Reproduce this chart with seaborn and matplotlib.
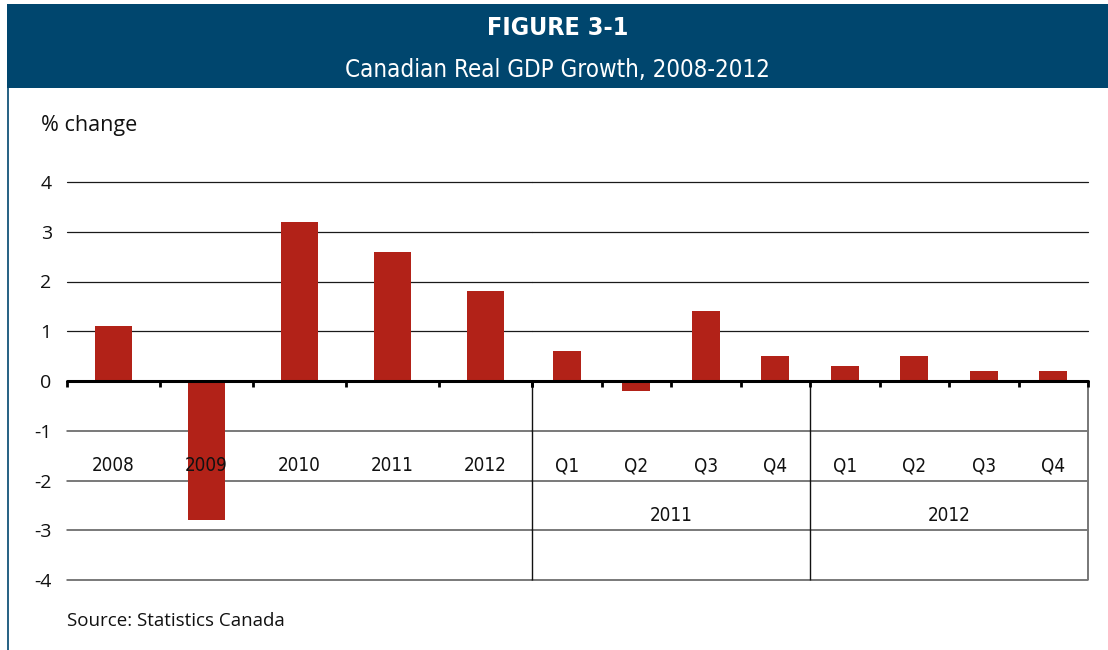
import matplotlib
matplotlib.use("Agg")
import matplotlib.pyplot as plt
from matplotlib.patches import Rectangle
from matplotlib.lines import Line2D
from matplotlib import font_manager as fm
import pandas as pd
import seaborn as sns

# Annual growth
years = ["2008", "2009", "2010", "2011", "2012"]
annual_growth = [1.1, -2.8, 3.2, 2.6, 1.8]

# Quarterly growth, 2011 and 2012
quarters = ["Q1", "Q2", "Q3", "Q4", "Q1", "Q2", "Q3", "Q4"]
quarter_years = ["2011", "2011", "2011", "2011", "2012", "2012", "2012", "2012"]
quarterly_growth = [0.6, -0.2, 1.4, 0.5, 0.3, 0.5, 0.2, 0.2]

y_ticks = [-4, -3, -2, -1, 0, 1, 2, 3, 4]

sns.set_theme(style="white")
plt.rcParams["font.family"] = ["Open Sans", "DejaVu Sans"]

BAR = "#b22218"
NAVY = "#00466e"


def narrow_font(bold=False):
    """Pick an installed condensed face for the category and header text."""
    files = [f.fname for f in fm.fontManager.ttflist]
    wanted = (["LiberationSansNarrow-Bold", "DejaVuSansCondensed-Bold"] if bold
              else ["LiberationSansNarrow-Regular", "DejaVuSansCondensed."])
    for key in wanted:
        for fn in files:
            if key in fn:
                return fm.FontProperties(fname=fn)
    for fn in files:
        base = fn.rsplit("/", 1)[-1]
        if ("Condensed" in base or "Narrow" in base) and \
                (("Bold" in base) == bold) and "Oblique" not in base \
                and "Italic" not in base:
            return fm.FontProperties(fname=fn)
    return fm.FontProperties(family="DejaVu Sans",
                             weight="bold" if bold else "normal")


NARROW = narrow_font()
NARROW_B = narrow_font(bold=True)

W, H = 1108, 650
fig = plt.figure(figsize=(W / 100, H / 100), dpi=100)

# header band and left rule
fig.add_artist(Rectangle((7 / W, 1 - 88 / H), 1 - 7 / W, 84 / H,
                         transform=fig.transFigure, facecolor=NAVY,
                         edgecolor="none"))
fig.add_artist(Line2D([7.5 / W, 7.5 / W], [0, 1 - 88 / H],
                      transform=fig.transFigure, color=NAVY, lw=1.2))
fig.text(0.5 * (1 + 7 / W), 1 - 28 / H, "FIGURE 3-1", ha="center", va="center",
         color="white", fontproperties=NARROW_B, fontsize=18)
fig.text(0.5 * (1 + 7 / W), 1 - 70 / H, "Canadian Real GDP Growth, 2008-2012",
         ha="center", va="center", color="white", fontproperties=NARROW,
         fontsize=17.3)

fig.text(41 / W, 1 - 126 / H, "% change", ha="left", va="center",
         fontsize=15.5, color="#111111")
fig.text(67 / W, 1 - 621 / H, "Source: Statistics Canada", ha="left",
         va="center", fontsize=13.5, color="#111111")

# plot geometry (pixels)
x0, xm, x1 = 67, 532, 1088
ymin, ymax = -4.05, 4.05
unit = 49.75
zero_px = 381
ax_h = (ymax - ymin) * unit
bottom = (H - (zero_px + (-ymin) * unit)) / H

ax_a = fig.add_axes([x0 / W, bottom, (xm - x0) / W, ax_h / H])
ax_q = fig.add_axes([xm / W, bottom, (x1 - xm) / W, ax_h / H])

df_a = pd.DataFrame({"period": years, "growth": annual_growth})
df_q = pd.DataFrame({"period": [f"{y} {q}" for y, q in zip(quarter_years, quarters)],
                     "growth": quarterly_growth})

sns.barplot(data=df_a, x="period", y="growth", color=BAR, width=0.4,
            saturation=1, linewidth=0, ax=ax_a)
sns.barplot(data=df_q, x="period", y="growth", color=BAR, width=0.4,
            saturation=1, linewidth=0, ax=ax_q)

for ax, n in ((ax_a, len(years)), (ax_q, len(quarters))):
    ax.set_xlim(-0.5, n - 0.5)
    ax.set_ylim(ymin, ymax)
    for s in ax.spines.values():
        s.set_visible(False)
    ax.set_xlabel("")
    ax.set_ylabel("")
    ax.set_xticks([])
    ax.patch.set_alpha(0)
    for v in y_ticks:
        if v == 0:
            continue
        ax.axhline(v, color="#1a1a1a" if v > 0 else "#555555",
                   lw=0.9 if v > 0 else 1.1, zorder=0.5, clip_on=False)
    ax.axhline(0, color="black", lw=2.2, zorder=3, clip_on=False)
    bounds = [i - 0.5 for i in range(n + 1)]
    ax.vlines(bounds, -0.13, 0, color="black", lw=2, zorder=3, clip_on=False)

ax_a.set_yticks(y_ticks)
ax_a.set_yticklabels([str(v) for v in y_ticks], fontsize=14, color="#111111")
ax_a.tick_params(axis="y", length=0, pad=11)
ax_q.set_yticks([])

# category labels beneath the axis
for i, lab in enumerate(years):
    ax_a.text(i, -1.7, lab, ha="center", va="center", fontproperties=NARROW,
              fontsize=13.5, color="#111111", zorder=4)
for i, lab in enumerate(quarters):
    ax_q.text(i, -1.7, lab, ha="center", va="center", fontproperties=NARROW,
              fontsize=13.5, color="#111111", zorder=4)

# year grouping for the quarterly panel
groups = list(dict.fromkeys(quarter_years))
for g in groups:
    idx = [i for i, y in enumerate(quarter_years) if y == g]
    ax_q.text(sum(idx) / len(idx), -2.7, g, ha="center", va="center",
              fontproperties=NARROW, fontsize=13.5, color="#111111")
ax_q.vlines([-0.5, 3.5], -4, 0, color="#111111", lw=1, zorder=1, clip_on=False)
ax_q.vlines([len(quarters) - 0.5], -4, 0, color="#777777", lw=1.4, zorder=1,
            clip_on=False)

fig.savefig("out.png", dpi=100)
